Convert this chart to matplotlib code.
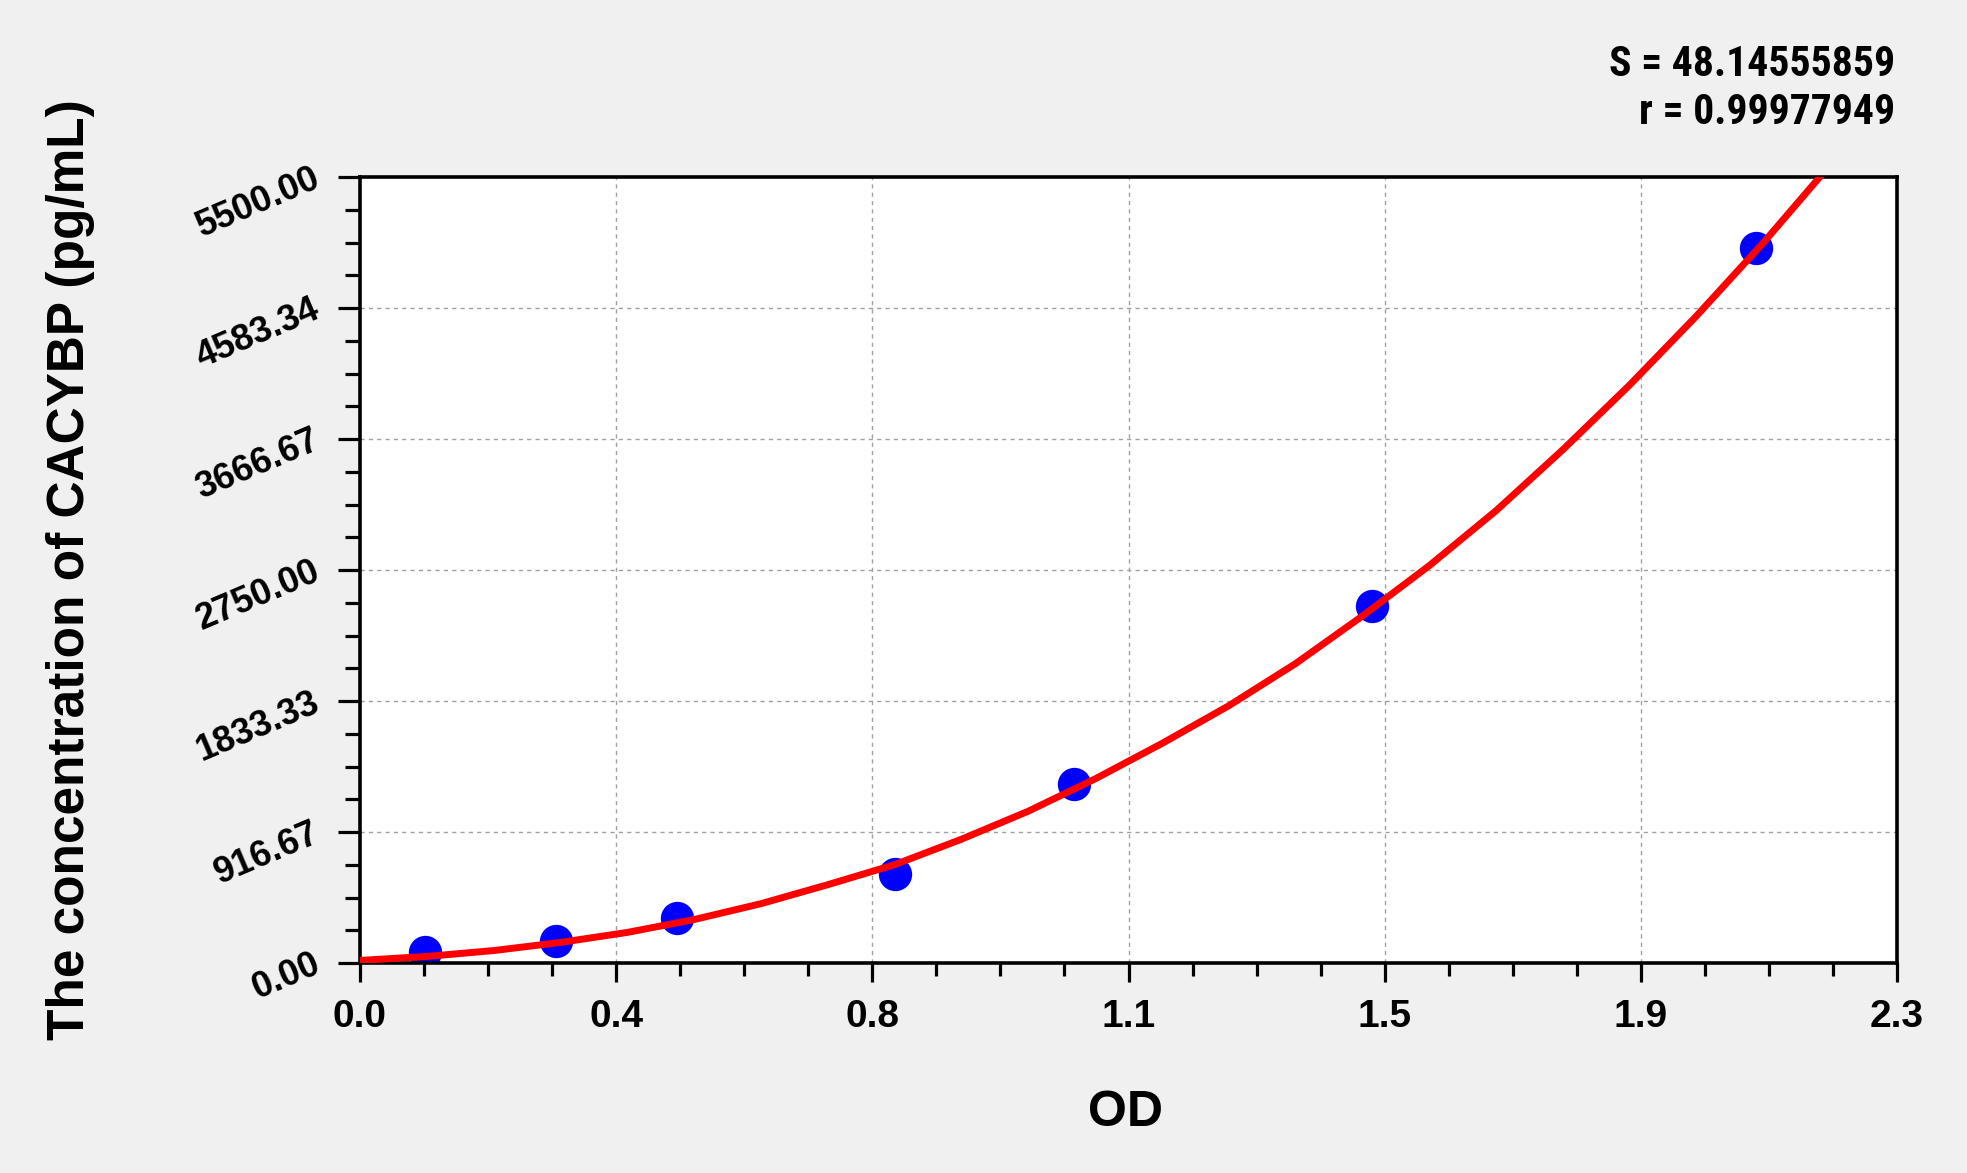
import numpy as np
import matplotlib
matplotlib.use("Agg")
import matplotlib.pyplot as plt
from matplotlib.ticker import FixedLocator, AutoMinorLocator
from matplotlib import font_manager as fm

# standard points (OD, concentration)
od = [0.097, 0.294, 0.475, 0.801, 1.069, 1.514, 2.089]
conc = [78.125, 156.25, 312.5, 625, 1250, 2500, 5000]
# fitted curve
fit_od = [0.0, 0.1, 0.2, 0.3, 0.4, 0.5, 0.6, 0.7, 0.8, 0.9, 1.0, 1.1, 1.2,
          1.3, 1.4, 1.5, 1.6, 1.7, 1.8, 1.9, 2.0, 2.1, 2.19]
fit_conc = [18, 46, 87, 144, 214, 304, 415, 548, 688, 866, 1062, 1288, 1536,
            1800, 2095, 2428, 2780, 3165, 3592, 4045, 4528, 5040, 5530]
x_ticks = [0.0, 2.3/6, 2*2.3/6, 3*2.3/6, 4*2.3/6, 5*2.3/6, 2.3]
x_labels = ["0.0", "0.4", "0.8", "1.1", "1.5", "1.9", "2.3"]
y_ticks = [0, 5500/6, 2*5500/6, 3*5500/6, 4*5500/6, 5*5500/6, 5500]
y_labels = ["0.00", "916.67", "1833.33", "2750.00", "3666.67", "4583.34", "5500.00"]
stat_lines = ["S = 48.14555859", "r = 0.99977949"]

names = {f.name for f in fm.fontManager.ttflist}
narrow = "Roboto Condensed" if "Roboto Condensed" in names else "Liberation Sans"
plt.rcParams['font.family'] = ['Liberation Sans', 'DejaVu Sans']

fig = plt.figure(figsize=(19.67, 11.73), dpi=100, facecolor='#f0f0f0')
ax = fig.add_axes([360/1967, 1-963/1173, (1897-360)/1967, (963-177)/1173])
ax.set_facecolor('white')

ax.plot(fit_od, fit_conc, color='#ff0000', lw=5, zorder=3,
        solid_capstyle='round', solid_joinstyle='round')
ax.plot(od, conc, 'o', color='#0000ff', ms=24, mec='none', zorder=2)

ax.set_xlim(0, 2.3)
ax.set_ylim(0, 5500)
ax.xaxis.set_major_locator(FixedLocator(x_ticks))
ax.yaxis.set_major_locator(FixedLocator(y_ticks))
ax.xaxis.set_minor_locator(AutoMinorLocator(4))
ax.yaxis.set_minor_locator(AutoMinorLocator(4))
ax.set_xticklabels(x_labels, fontsize=28, fontweight='bold')
ax.set_yticklabels(y_labels, fontsize=26, fontweight='bold', rotation=23,
                   ha='right', va='center', rotation_mode='anchor')
ax.tick_params(axis='x', which='major', direction='out', length=14, width=2.3, color='black', pad=12)
ax.tick_params(axis='x', which='minor', direction='out', length=9.5, width=2.3, color='black')
ax.tick_params(axis='y', which='major', direction='out', length=16, width=2.3, color='black', pad=14)
ax.tick_params(axis='y', which='minor', direction='out', length=11, width=2.3, color='black')
for s in ax.spines.values():
    s.set_linewidth(2.6)
    s.set_color('black')
ax.grid(True, which='major', color='#a0a0a0', linestyle=(0, (3, 3)), linewidth=1.0)
ax.set_axisbelow(True)

fig.text(1125/1967, 1-1113/1173, "OD", fontsize=36, fontweight='bold', ha='center', va='center')
fig.text(71/1967, 1-570/1173, "The concentration of CACYBP (pg/mL)", fontsize=37,
         fontweight='bold', rotation=90, ha='center', va='center')
fig.text(1895/1967, 1-65/1173, stat_lines[0], fontsize=30, fontweight='bold',
         ha='right', va='center', family=[narrow, 'DejaVu Sans'])
fig.text(1895/1967, 1-113/1173, stat_lines[1], fontsize=30, fontweight='bold',
         ha='right', va='center', family=[narrow, 'DejaVu Sans'])

fig.savefig("out.png", dpi=100, facecolor=fig.get_facecolor())
